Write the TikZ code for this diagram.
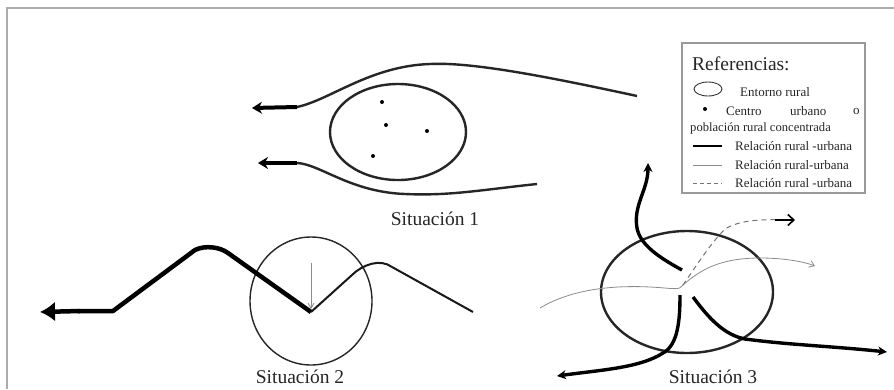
\documentclass[tikz,border=0pt]{standalone}
\usepackage{fontspec}
\setmainfont{Liberation Serif}
\usetikzlibrary{arrows.meta}
\tikzset{
  frameline/.style={draw=black!32, line width=2.2pt},
  legbox/.style={draw=black!40, line width=1.3pt},
  rimline/.style={draw=black!85, line width=2.4pt},
  thickrel/.style={draw=black, line width=3.4pt},
  veryrel/.style={draw=black, line width=4.5pt},
  midrel/.style={draw=black!90, line width=2pt},
  thinrel/.style={draw=black!45, line width=0.8pt},
  dashrel/.style={draw=black!55, line width=1pt, dash pattern=on 5pt off 4pt},
  sitlabel/.style={font=\fontsize{19.5}{20}\selectfont, text=black!85, inner sep=0pt},
  legtext/.style={font=\fontsize{13}{14}\selectfont, text=black!85, inner sep=0pt, anchor=west},
  citydot/.style={circle, fill=black, inner sep=0pt, minimum size=4pt},
}
\begin{document}
\begin{tikzpicture}[x=1pt, y=-1pt]
\useasboundingbox (0,0) rectangle (894,389);
\fill[white] (0,0) rectangle (894,389);
% outer frame
\draw[frameline] (7,389) -- (7,8) -- (894,8);

% ---------- legend ----------
\draw[legbox] (682,43) rectangle (865,193);
\node[font=\fontsize{19.5}{20}\selectfont, text=black!85, inner sep=0pt, anchor=west] (legtitle) at (692,64) {Referencias:};
\draw[draw=black!80, line width=0.9pt] (708,89) ellipse (14pt and 7pt);
\node[legtext] (l1) at (740,92) {Entorno rural};
\node[citydot, minimum size=4pt] (ldot) at (705,109) {};
\node[legtext] (l2a) at (726,111) {Centro};
\node[legtext] (l2b) at (790,111) {urbano};
\node[legtext] (l2c) at (853,111) {o};
\node[legtext, font=\fontsize{12.6}{14}\selectfont] (l2d) at (690,128) {población rural concentrada};
\coordinate (a1) at (693,146); \coordinate (b1) at (722,146);
\draw[draw=black, line width=2.6pt] (a1) -- (b1);
\node[legtext] (l3) at (735,146) {Relación rural -urbana};
\coordinate (a2) at (693,165); \coordinate (b2) at (722,165);
\draw[thinrel] (a2) -- (b2);
\node[legtext] (l4) at (735,165) {Relación rural-urbana};
\coordinate (a3) at (693,183); \coordinate (b3) at (722,183);
\draw[draw=black!55, line width=0.8pt, dash pattern=on 4pt off 3pt] (a3) -- (b3);
\node[legtext] (l5) at (735,183) {Relación rural -urbana};

% ---------- Situacion 1 ----------
\draw[rimline] (398,132) ellipse (68pt and 48pt);
\node[citydot] (d1) at (382,102) {};
\node[citydot] (d2) at (386,125) {};
\node[citydot] (d3) at (427,131) {};
\node[citydot] (d4) at (373,156) {};
\coordinate (u0) at (637,96);
\coordinate (u1) at (297,107);
\coordinate (u2) at (252,108);
\draw[rimline] (u0) .. controls (540,75) and (470,62) .. (430,64)
  .. controls (370,66) and (330,100) .. (u1);
\draw[draw=black, line width=4pt, -{Stealth[length=10pt,width=12pt]}] (u1) -- (u2);
\coordinate (w0) at (537,184);
\coordinate (w1) at (297,163);
\coordinate (w2) at (258,163);
\draw[rimline] (w0) .. controls (480,190) and (450,196) .. (405,194)
  .. controls (350,192) and (320,164) .. (w1);
\draw[draw=black, line width=4pt, -{Stealth[length=10pt,width=12pt]}] (w1) -- (w2);
\node[sitlabel] (s1) at (435,219) {Situación 1};

% ---------- Situacion 2 ----------
\draw[draw=black!85, line width=1.4pt] (311,301) ellipse (61pt and 64pt);
\coordinate (v0) at (311,312);
\coordinate (v1) at (113,311);
\coordinate (v2) at (40,312);
\draw[veryrel, line join=round] (v0) -- (228,253) .. controls (220,247) and (205,245) .. (195,250)
  -- (v1) -- (78,311);
\draw[draw=black, line width=4.5pt, -{Latex[length=15pt,width=20pt]}] (80,311) -- (v2);
\coordinate (m1) at (473,312);
\draw[midrel, line join=round] (v0) -- (352,275) .. controls (362,265) and (380,258) .. (392,267) -- (m1);
\coordinate (g0) at (311,263);
\coordinate (g1) at (311,309);
\draw[draw=black!45, line width=0.9pt, -{Straight Barb[length=5pt,width=6pt]}] (g0) -- (g1);
\node[sitlabel] (s2) at (300,377) {Situación 2};

% ---------- Situacion 3 ----------
\draw[rimline] (687,292) ellipse (86pt and 61pt);
\coordinate (c) at (683,285);
% thin gray
\coordinate (t0) at (540,308);
\coordinate (t1) at (815,266);
\draw[thinrel, -{Straight Barb[length=5pt,width=7pt]}] (t0) .. controls (570,290) and (610,285) .. (650,287)
  .. controls (672,288) and (680,291) .. (c)
  .. controls (700,270) and (720,258) .. (760,258)
  .. controls (785,258) and (805,262) .. (t1);
% dashed
\coordinate (e1) at (795,220);
\draw[dashrel] (c) .. controls (700,260) and (712,242) .. (725,229) .. controls (740,220) and (760,219) .. (790,220);
\draw[draw=black, line width=1.6pt, -{Straight Barb[length=6pt,width=11pt]}] (775,220) -- (e1);
% thick up
\coordinate (k0) at (682,270);
\coordinate (k1) at (648,163);
\draw[thickrel, -{Stealth[length=9pt,width=9pt]}] (k0) .. controls (660,258) and (640,245) .. (637,228)
  .. controls (633,205) and (648,190) .. (k1);
% thick lower-left
\coordinate (p0) at (680,295);
\coordinate (p1) at (557,376);
\draw[thickrel, -{Stealth[length=9pt,width=9pt]}] (p0) .. controls (680,320) and (678,345) .. (663,353)
  .. controls (640,368) and (600,370) .. (p1);
% thick lower-right
\coordinate (q0) at (693,297);
\coordinate (q1) at (887,352);
\draw[thickrel, -{Stealth[length=9pt,width=9pt]}] (q0) .. controls (710,320) and (725,335) .. (745,339)
  .. controls (790,345) and (830,346) .. (q1);
\node[sitlabel] (s3) at (713,377) {Situación 3};
\end{tikzpicture}
\end{document}
